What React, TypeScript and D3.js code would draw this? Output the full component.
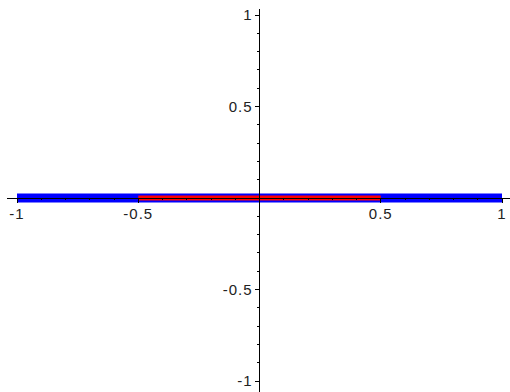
import React, { useRef, useEffect } from 'react';
import * as d3 from 'd3';

// plotted segments (y = 0 along the x axis)
const blueX = [-1, 1];
const blueY = [0, 0];
const redX = [-0.5, 0.5];
const redY = [0, 0];

const xTicks = [-1, -0.5, 0.5, 1];
const xTickLabels = ['-1', '-0.5', '0.5', '1'];
const yTicks = [1, 0.5, -0.5, -1];
const yTickLabels = ['1', '0.5', '-0.5', '-1'];
const minorTicks = d3.range(-10, 11).map(i => i / 10);

const width = 510;
const height = 392;

const App = () => {
    const svgRef = useRef(null);

    useEffect(() => {
        const svg = d3.select(svgRef.current);
        svg.selectAll('*').remove();

        const x = d3.scaleLinear().domain([-1, 1]).range([17, 502]);
        const y = d3.scaleLinear().domain([-1, 1]).range([381, 15]);

        const line = d3
            .line<[number, number]>()
            .x(d => x(d[0]))
            .y(d => y(d[1]));

        svg
            .append('path')
            .datum(blueX.map((v, i) => [v, blueY[i]] as [number, number]))
            .attr('fill', 'none')
            .attr('stroke', '#0000ff')
            .attr('stroke-width', 9)
            .attr('d', line);

        svg
            .append('path')
            .datum(redX.map((v, i) => [v, redY[i]] as [number, number]))
            .attr('fill', 'none')
            .attr('stroke', '#ff0000')
            .attr('stroke-width', 5)
            .attr('d', line);

        const axes = svg.append('g').attr('stroke', '#000').attr('shape-rendering', 'crispEdges');

        // x axis
        axes.append('line')
            .attr('x1', x(-1) - 10).attr('x2', width)
            .attr('y1', y(0)).attr('y2', y(0));
        axes.selectAll('.xminor')
            .data(minorTicks)
            .enter().append('line')
            .attr('x1', d => x(d)).attr('x2', d => x(d))
            .attr('y1', y(0)).attr('y2', y(0) + 2);
        axes.selectAll('.xmajor')
            .data(xTicks)
            .enter().append('line')
            .attr('x1', d => x(d)).attr('x2', d => x(d))
            .attr('y1', y(0)).attr('y2', y(0) + 5);

        // y axis
        axes.append('line')
            .attr('x1', x(0)).attr('x2', x(0))
            .attr('y1', y(1) - 6).attr('y2', height);
        axes.selectAll('.yminor')
            .data(minorTicks)
            .enter().append('line')
            .attr('x1', x(0) - 3).attr('x2', x(0))
            .attr('y1', d => y(d)).attr('y2', d => y(d));
        axes.selectAll('.ymajor')
            .data(yTicks)
            .enter().append('line')
            .attr('x1', x(0) - 5).attr('x2', x(0))
            .attr('y1', d => y(d)).attr('y2', d => y(d));

        const labels = svg.append('g')
            .attr('font-family', '"Liberation Sans", Arial, sans-serif')
            .attr('font-size', 15)
            .attr('letter-spacing', 1)
            .attr('fill', '#222');

        labels.selectAll('.xl')
            .data(xTicks)
            .enter().append('text')
            .attr('x', d => x(d))
            .attr('y', y(0) + 21)
            .attr('text-anchor', 'middle')
            .text((d, i) => xTickLabels[i]);

        labels.selectAll('.yl')
            .data(yTicks)
            .enter().append('text')
            .attr('x', x(0) - 7)
            .attr('y', d => y(d))
            .attr('dy', '0.35em')
            .attr('text-anchor', 'end')
            .text((d, i) => yTickLabels[i]);
    }, []);

    return (
        <svg
            ref={svgRef}
            width={width}
            height={height}
            style={{ position: 'absolute', left: 0, top: 0, background: '#fff' }}
        />
    );
};

export default App;
